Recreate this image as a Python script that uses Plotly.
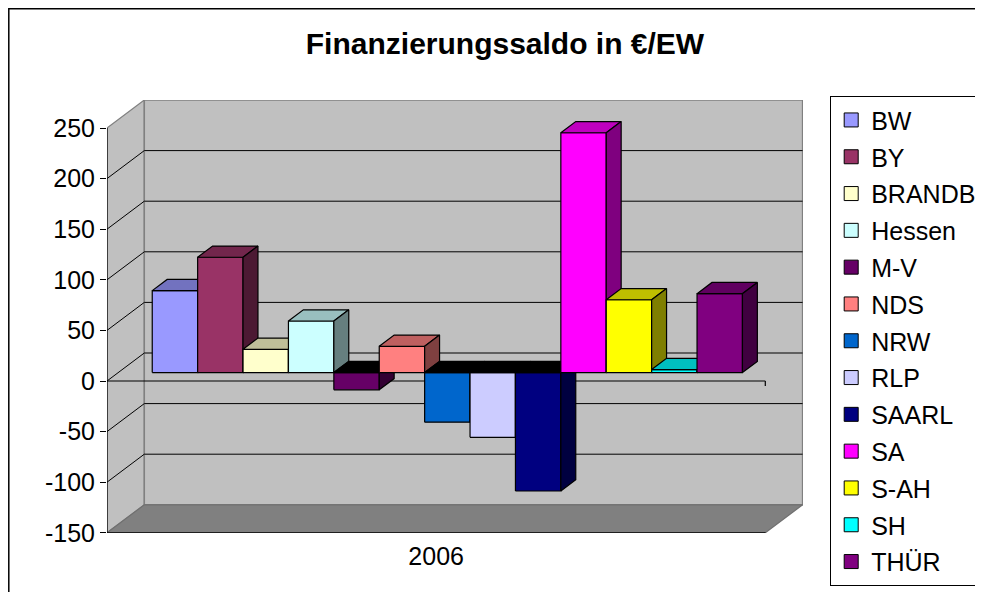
import plotly.graph_objects as go

# ---------------- data ----------------
categories = ["2006"]
series_names = ["BW", "BY", "BRANDB", "Hessen", "M-V", "NDS", "NRW",
                "RLP", "SAARL", "SA", "S-AH", "SH", "THÜR"]
values_2006 = [81, 114, 23, 51, -17, 26, -49, -64, -117, 237, 72, 3, 78]
series_colors = ["#9999FF", "#993366", "#FFFFCC", "#CCFFFF", "#660066", "#FF8080",
                 "#0066CC", "#CCCCFF", "#000080", "#FF00FF", "#FFFF00", "#00FFFF",
                 "#800080"]
y_ticks = [-150, -100, -50, 0, 50, 100, 150, 200, 250]
title_text = "Finanzierungssaldo in €/EW"

# ---------------- projection / layout parameters ----------------
OFF = 8                                     # page body margin of the html page
W, H = 983 - OFF, 592 - OFF
PLOT_LEFT, PLOT_TOP = 107, 100              # plot area in page px
PW, PH = 696, 433
L, T = PLOT_LEFT - OFF, PLOT_TOP - OFF
BAR_PX = 45.4                               # one bar width in px (x unit)
PX_PER_UNIT = 1.012                         # px per value unit
ZERO_PX = 381                               # page y px of value 0 on front plane
DX = 37.3 / BAR_PX                          # depth shift (x units) for full depth
DY = 28.0 / PX_PER_UNIT                     # depth shift (value units) for full depth
GAP = 0.75                                  # gap on each side of the cluster (bar widths)
BAR_FRONT, BAR_DEPTH = 0.30, 0.40           # bar front depth and bar depth (fraction)
TOP_SHADE, SIDE_SHADE = 0.75, 0.5
FONT = "Liberation Sans, Arial, sans-serif"

n = len(series_names)
floor_w = n + 2 * GAP
ymin, ymax = min(y_ticks), max(y_ticks)
x_range = [0, PW / BAR_PX]
y_range = [-(PLOT_TOP + PH - ZERO_PX) / PX_PER_UNIT, (ZERO_PX - PLOT_TOP) / PX_PER_UNIT]
tick_down = 5 / PX_PER_UNIT


def paper_x(px):
    return (px - PLOT_LEFT) / PW


def paper_y(py):
    return (PLOT_TOP + PH - py) / PH


def shade(hex_color, f):
    h = hex_color.lstrip("#")
    r, g, b = (int(h[i:i + 2], 16) for i in (0, 2, 4))
    return "#%02X%02X%02X" % (int(r * f), int(g * f), int(b * f))


def path(points):
    return "M " + " L ".join(f"{x},{y}" for x, y in points) + " Z"


shapes = []
# left side wall
shapes.append(dict(type="path", xref="x", yref="y", layer="below",
                   path=path([(0, ymin), (0, ymax), (DX, ymax + DY), (DX, ymin + DY)]),
                   fillcolor="#C0C0C0", line=dict(color="#808080", width=1.2)))
# back wall
shapes.append(dict(type="rect", xref="x", yref="y", layer="below",
                   x0=DX, x1=DX + floor_w, y0=ymin + DY, y1=ymax + DY,
                   fillcolor="#C0C0C0", line=dict(color="#808080", width=1.5)))
# floor
shapes.append(dict(type="path", xref="x", yref="y", layer="below",
                   path=path([(0, ymin), (floor_w, ymin), (floor_w + DX, ymin + DY), (DX, ymin + DY)]),
                   fillcolor="#808080", line=dict(color="#707070", width=1.2)))
# gridlines on back wall and side wall
for t in y_ticks:
    if t in (ymin, ymax):
        continue
    shapes.append(dict(type="line", xref="x", yref="y", layer="below",
                       x0=DX, x1=DX + floor_w, y0=t + DY, y1=t + DY,
                       line=dict(color="#000000", width=1)))
    shapes.append(dict(type="line", xref="x", yref="y", layer="below",
                       x0=0, x1=DX, y0=t, y1=t + DY,
                       line=dict(color="#000000", width=1)))
# value axis line (front left edge)
shapes.append(dict(type="line", xref="x", yref="y", layer="below",
                   x0=0, x1=0, y0=ymin - tick_down, y1=ymax,
                   line=dict(color="#000000", width=1.2)))
# floor front edge with end ticks
shapes.append(dict(type="line", xref="x", yref="y", layer="below",
                   x0=0, x1=floor_w, y0=ymin, y1=ymin,
                   line=dict(color="#000000", width=1.2)))
shapes.append(dict(type="line", xref="x", yref="y", layer="below",
                   x0=floor_w, x1=floor_w, y0=ymin, y1=ymin - tick_down,
                   line=dict(color="#000000", width=1.2)))
# category axis line at 0 on the front plane
shapes.append(dict(type="line", xref="x", yref="y", layer="below",
                   x0=0, x1=floor_w, y0=0, y1=0,
                   line=dict(color="#000000", width=1.2)))
shapes.append(dict(type="line", xref="x", yref="y", layer="below",
                   x0=floor_w, x1=floor_w, y0=0, y1=-tick_down,
                   line=dict(color="#000000", width=1.2)))
# outer chart border
shapes.append(dict(type="rect", xref="paper", yref="paper", layer="below",
                   x0=paper_x(8.8), x1=paper_x(1000),
                   y0=paper_y(600), y1=paper_y(8.8),
                   line=dict(color="#000000", width=1.5), fillcolor="rgba(0,0,0,0)"))

fig = go.Figure()

# 3D bars (painter order, left to right)
for i, (name, v, c) in enumerate(zip(series_names, values_2006, series_colors)):
    x0 = GAP + i + BAR_FRONT * DX
    x1 = x0 + 1
    base = BAR_FRONT * DY
    top = base + v
    lo, hi = min(base, top), max(base, top)
    ddx, ddy = BAR_DEPTH * DX, BAR_DEPTH * DY
    faces = [
        ([(x0, lo), (x1, lo), (x1, hi), (x0, hi)], c),
        ([(x0, hi), (x1, hi), (x1 + ddx, hi + ddy), (x0 + ddx, hi + ddy)],
         shade(c, TOP_SHADE) if v >= 0 else "#000000"),
        ([(x1, lo), (x1, hi), (x1 + ddx, hi + ddy), (x1 + ddx, lo + ddy)], shade(c, SIDE_SHADE)),
    ]
    for pts, col in faces:
        xs = [p[0] for p in pts] + [pts[0][0]]
        ys = [p[1] for p in pts] + [pts[0][1]]
        fig.add_trace(go.Scatter(x=xs, y=ys, mode="lines", fill="toself", fillcolor=col,
                                 line=dict(color="#000000", width=1.2),
                                 showlegend=False, hoverinfo="skip", legendgroup=name))

# legend entries
for name, c in zip(series_names, series_colors):
    fig.add_trace(go.Scatter(x=[None], y=[None], mode="markers", name=name, legendgroup=name,
                             marker=dict(symbol="square", size=14, color=c,
                                         line=dict(color="#000000", width=1))))

fig.update_layout(
    template="none",
    width=W, height=H, autosize=False,
    margin=dict(l=L, r=W - L - PW, t=T, b=H - T - PH, pad=0, autoexpand=False),
    paper_bgcolor="white", plot_bgcolor="white",
    font=dict(family=FONT, color="#000000", size=25),
    title=dict(text="<b>" + title_text + "</b>", x=(505 - OFF) / W, xref="container",
               xanchor="center", y=1 - (43 - OFF) / H, yref="container", yanchor="middle",
               font=dict(family=FONT, size=30, color="#000000")),
    xaxis=dict(range=x_range, showgrid=False, zeroline=False, showline=False,
               tickvals=[floor_w / 2], ticktext=categories, ticks="", automargin=False,
               ticklabelstandoff=6,
               tickfont=dict(size=25, family=FONT, color="#000000"), fixedrange=True),
    yaxis=dict(range=y_range, showgrid=False, zeroline=False, showline=False,
               tickvals=y_ticks, ticktext=[str(t) for t in y_ticks], automargin=False,
               ticks="outside", ticklen=6, tickcolor="#000000", tickwidth=1.2,
               tickfont=dict(size=25, family=FONT, color="#000000"), fixedrange=True),
    legend=dict(x=paper_x(830), y=paper_y(96), xanchor="left", yanchor="top",
                bordercolor="#000000", borderwidth=1.2, bgcolor="white",
                font=dict(size=25, family=FONT, color="#000000"),
                tracegroupgap=1.3, itemwidth=30, maxheight=700),
    shapes=shapes,
    showlegend=True,
)

fig.write_html("out.html", config={"displayModeBar": False})
